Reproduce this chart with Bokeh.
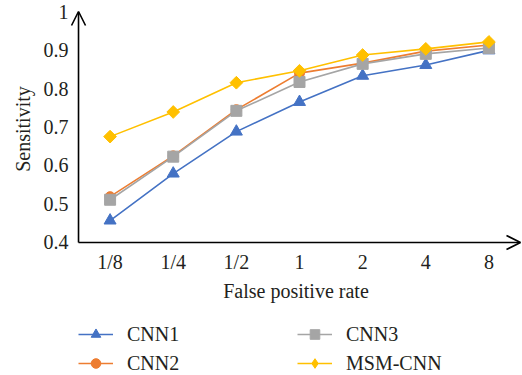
import math
from bokeh.plotting import figure
from bokeh.layouts import column
from bokeh.models import (Range1d, Arrow, OpenHead, Legend, LegendItem,
                          FixedTicker, CustomJSTickFormatter)
from bokeh.embed import file_html
from bokeh.resources import INLINE

categories = ["1/8", "1/4", "1/2", "1", "2", "4", "8"]
cnn1 = [0.457, 0.579, 0.688, 0.765, 0.833, 0.861, 0.899]
cnn2 = [0.519, 0.625, 0.745, 0.840, 0.866, 0.897, 0.913]
cnn3 = [0.511, 0.623, 0.742, 0.817, 0.864, 0.890, 0.905]
msm_cnn = [0.675, 0.739, 0.815, 0.846, 0.887, 0.903, 0.921]
y_ticks = [0.4, 0.5, 0.6, 0.7, 0.8, 0.9, 1.0]

FONT = "Liberation Serif"
TXT = "#231f20"

# category positions (centre of each category slot)
xs = [i + 0.5 for i in range(len(categories))]

p = figure(width=522, height=312, output_backend="svg", toolbar_location=None,
           x_range=Range1d(-0.127, 7.016),
           y_range=Range1d(0.3792, 1.0104),
           min_border_left=70, min_border_right=1, min_border_top=7, min_border_bottom=62)
p.outline_line_color = None
p.grid.grid_line_color = None

for ax in (p.xaxis[0], p.yaxis[0]):
    ax.axis_line_color = None
    ax.major_tick_line_color = None
    ax.minor_tick_line_color = None
    ax.major_tick_in = 0
    ax.major_tick_out = 0
    ax.minor_tick_in = 0
    ax.minor_tick_out = 0
    ax.major_label_text_font = FONT
    ax.major_label_text_font_size = "20px"
    ax.major_label_text_color = TXT
    ax.axis_label_text_font = FONT
    ax.axis_label_text_font_size = "20px"
    ax.axis_label_text_font_style = "normal"
    ax.axis_label_text_color = TXT

p.xaxis.axis_label = "False positive rate"
p.xaxis.ticker = FixedTicker(ticks=xs)
p.xaxis.formatter = CustomJSTickFormatter(args=dict(cats=categories),
                                          code="return cats[Math.round(tick - 0.5)];")
p.xaxis.major_label_standoff = 0
p.xaxis.axis_label_standoff = 4
p.yaxis.axis_label = "Sensitivity"
p.yaxis.major_label_standoff = 2
p.yaxis.axis_label_standoff = 7
p.yaxis.ticker = FixedTicker(ticks=y_ticks)
p.yaxis.formatter = CustomJSTickFormatter(code="return tick > 0.999 ? '1' : tick.toFixed(1);")

# axis lines with open arrow heads
p.add_layout(Arrow(end=OpenHead(size=14, line_width=1.6, line_color="black"),
                   x_start=0, y_start=0.4, x_end=0, y_end=1.0,
                   line_width=1.6, line_color="black"))
p.add_layout(Arrow(end=OpenHead(size=14, line_width=1.6, line_color="black"),
                   x_start=0, y_start=0.4, x_end=7, y_end=0.4,
                   line_width=1.6, line_color="black"))

# name, values, colour, chart marker, size, angle, legend marker, legend size
series = [
    ("CNN1", cnn1, "#4472C4", "triangle", 12, 0, "triangle", 10),
    ("CNN2", cnn2, "#ED7D31", "circle", 10, 0, "circle", 9),
    ("CNN3", cnn3, "#A5A5A5", "square", 11, 0, "square", 9),
    ("MSM-CNN", msm_cnn, "#FFC000", "square", 9, math.pi / 4, "diamond", 11),
]

# legend lives in its own strip below the chart
q = figure(width=522, height=63, output_backend="svg", toolbar_location=None,
           x_axis_type=None, y_axis_type=None,
           x_range=Range1d(-0.127, 7.016), y_range=Range1d(0, 1),
           min_border_left=0, min_border_right=0, min_border_top=0, min_border_bottom=0)
q.outline_line_color = None
q.grid.grid_line_color = None

items = []
for name, vals, col, mk, sz, ang, lmk, lsz in series:
    p.line(xs, vals, line_color=col, line_width=1.6)
    p.scatter(xs, vals, marker=mk, size=sz, angle=ang, fill_color=col, line_color=col)
    ll = q.line(xs, vals, line_color=col, line_width=1.6, visible=False)
    ls = q.scatter(xs, vals, marker=lmk, size=lsz,
                   fill_color=col, line_color=col, visible=False)
    items.append(LegendItem(label=name, renderers=[ll, ls]))

legend = Legend(items=items, location=(8, 0), orientation="vertical", ncols=2,
                glyph_width=35, glyph_height=24, label_standoff=14,
                label_width=165, label_height=24, spacing=5, padding=0, margin=0,
                border_line_color=None, background_fill_alpha=0,
                inactive_fill_alpha=0, click_policy="none",
                label_text_font=FONT, label_text_font_size="20px",
                label_text_color=TXT)
q.add_layout(legend, "center")

layout = column(p, q, spacing=0)
open("out.html", "w").write(file_html(layout, INLINE))
